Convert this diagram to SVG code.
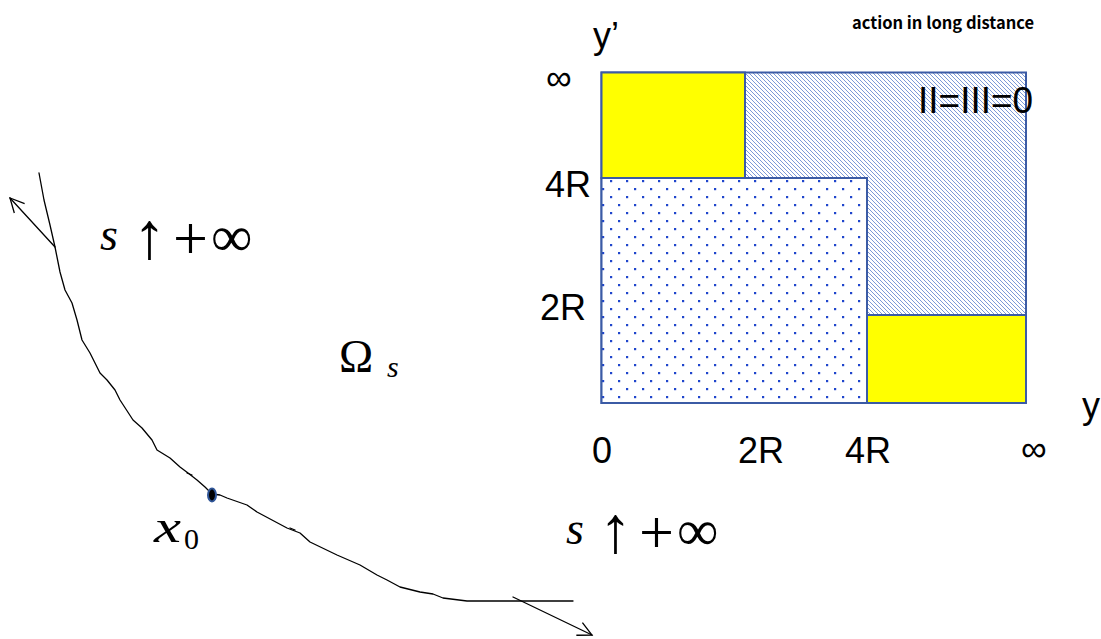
<svg xmlns="http://www.w3.org/2000/svg" width="1101" height="639" viewBox="0 0 1101 639">
<style>
.lbl{font-family:"Liberation Sans",Arial,sans-serif;font-size:36px;fill:#000}
.m{font-family:"Liberation Serif","Times New Roman",serif;fill:#000}
.it{font-style:italic}
.box{stroke:#3b5ba5;stroke-width:2}
.crv{fill:none;stroke:#000;stroke-width:1.3;stroke-linejoin:round;stroke-linecap:round}
</style>
<defs>
<pattern id="hatch" patternUnits="userSpaceOnUse" width="4" height="4">
<rect width="4" height="4" fill="#fff"/>
<path d="M0,0 L4,4 M-1,3 L1,5 M3,-1 L5,1" stroke="#6e8fd2" stroke-width="0.9"/>
</pattern>
<pattern id="dots" patternUnits="userSpaceOnUse" width="16" height="16">
<rect width="16" height="16" fill="#fff"/>
<rect x="2" y="4" width="2.2" height="2.2" fill="#1f45cc"/>
<rect x="10" y="12" width="2.2" height="2.2" fill="#1f45cc"/>
</pattern>
<marker id="arr" markerUnits="userSpaceOnUse" markerWidth="30" markerHeight="30" viewBox="-20 -15 30 30" refX="0" refY="0" orient="auto">
<path d="M-14,-7 L0,0 L-14,7" fill="none" stroke="#000" stroke-width="1.3"/>
</marker>
</defs>
<rect width="1101" height="639" fill="#fff"/>

<g id="title"><text x="1034" y="29" text-anchor="end" style="font-family:'Noto Sans CJK JP','Noto Sans',sans-serif;font-weight:bold;font-size:16.5px">action in long distance</text></g>

<g id="chart">
<rect id="region-hatch" class="box" x="601.5" y="72.5" width="424.5" height="330.5" fill="url(#hatch)"/>
<rect id="region-yellow-top" class="box" x="601.5" y="72.5" width="143.5" height="105.5" fill="#ffff00"/>
<rect id="region-dots" class="box" x="601.5" y="178" width="265.5" height="225" fill="url(#dots)"/>
<rect id="region-yellow-right" class="box" x="867" y="315" width="159" height="88" fill="#ffff00"/>
<text x="918" y="113" style="font-family:'Liberation Sans',Arial,sans-serif;font-size:37px">II=III=0</text>
</g>

<g id="axis-labels">
<text class="lbl" x="593" y="48">y’</text>
<text class="lbl" x="546" y="90">∞</text>
<text class="lbl" x="545" y="197">4R</text>
<text class="lbl" x="540" y="320">2R</text>
<text class="lbl" x="592" y="463">0</text>
<text class="lbl" x="738" y="463">2R</text>
<text class="lbl" x="845" y="463">4R</text>
<text class="lbl" x="1021" y="461">∞</text>
<text class="lbl" x="1082" y="418">y</text>
</g>

<g id="connectors">
<polyline class="crv" points="39,173 44,200 50,225 55,247 58,262 60,272 65,290 72,303 77,320 82,340 90,353 100,373 107,380 115,390 120,400 133,420 142,428 152,440 157,450 170,458 180,467 188,473 197,480 205,487 212,494 220,495 227,498 247,505 257,512 287,528 300,533 310,542 337,555 360,565 377,575 387,580 400,587 420,592 433,594 443,598 467,601 573,601"/>
<path class="crv" d="M187,473 L192,475 M290,528 L295,530"/>
<line class="crv" x1="55" y1="247" x2="10" y2="198" marker-end="url(#arr)"/>
<line class="crv" x1="513" y1="597" x2="592" y2="635" marker-end="url(#arr)"/>
</g>

<g id="point-x0">
<ellipse cx="212" cy="495" rx="4" ry="6.5" fill="#000" stroke="#2f5597" stroke-width="2"/>
</g>

<g id="math-labels">
<text class="m it" x="100" y="250" font-size="46">s</text>
<text class="m" x="133" y="258" font-size="66">↑</text>
<text class="m" x="173" y="259" font-size="62">+</text>
<text class="m" x="211" y="256" font-size="58">∞</text>

<text class="m it" x="566" y="544" font-size="46">s</text>
<text class="m" x="599" y="552" font-size="66">↑</text>
<text class="m" x="639" y="553" font-size="62">+</text>
<text class="m" x="677" y="550" font-size="58">∞</text>

<text class="m" x="339" y="372" font-size="46">Ω</text>
<text class="m it" x="387" y="377" font-size="30">s</text>

<text class="m it" x="154" y="542" font-size="46" textLength="27" lengthAdjust="spacingAndGlyphs">x</text>
<text class="m" x="184" y="549" font-size="30">0</text>
</g>
</svg>
